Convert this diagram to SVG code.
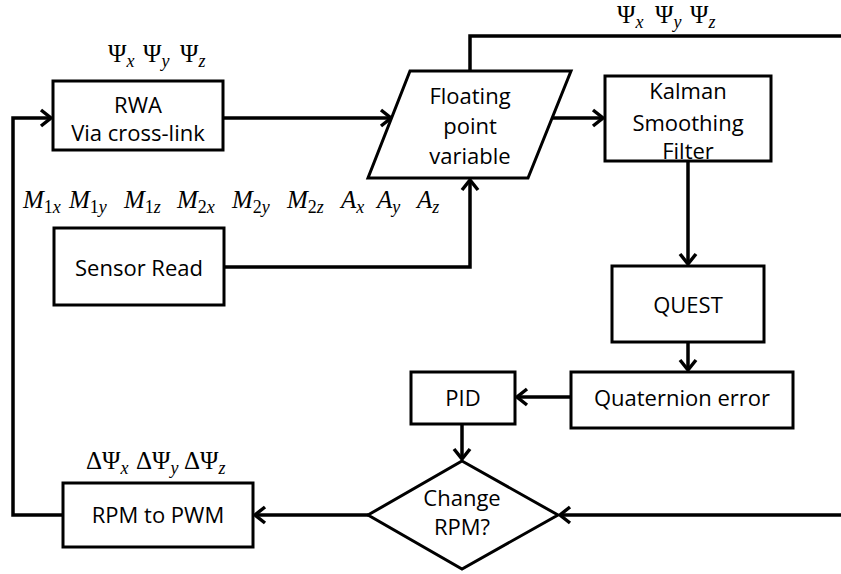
<svg xmlns="http://www.w3.org/2000/svg" width="841" height="574" viewBox="0 0 841 574">
<style>
.box{fill:#fff;stroke:#000;stroke-width:3}
.lbl{font-family:"Open Sans","Liberation Sans",sans-serif;font-size:22px;fill:#000;text-anchor:middle}
.math{font-family:"Liberation Serif","DejaVu Serif",serif;font-size:25px;fill:#000}
.it{font-style:italic}
.sub{font-size:18px}
.con{fill:none;stroke:#000;stroke-width:3.5}
</style>
<defs>
<marker id="ar" markerUnits="userSpaceOnUse" markerWidth="16" markerHeight="20" refX="12" refY="10" orient="auto">
<path d="M2,2 L12,10 L2,18" fill="none" stroke="#000" stroke-width="3.5"/>
</marker>
</defs>
<rect width="841" height="574" fill="#fff"/>
<g id="connectors">
<path class="con" d="M63,515 H13 V118 H51" marker-end="url(#ar)"/>
<path class="con" d="M223,118 H391" marker-end="url(#ar)"/>
<path class="con" d="M224,267 H470 V180" marker-end="url(#ar)"/>
<path class="con" d="M470,71 V36 H841"/>
<path class="con" d="M552,118 H603" marker-end="url(#ar)"/>
<path class="con" d="M688,161 V264" marker-end="url(#ar)"/>
<path class="con" d="M688,342 V370" marker-end="url(#ar)"/>
<path class="con" d="M571,397 H517" marker-end="url(#ar)"/>
<path class="con" d="M462,424 V459" marker-end="url(#ar)"/>
<path class="con" d="M841,515 H560" marker-end="url(#ar)"/>
<path class="con" d="M368,515 H255" marker-end="url(#ar)"/>
</g>
<g id="rwa">
<rect class="box" x="53" y="81" width="170" height="69"/>
<text class="lbl" x="138" y="113">RWA</text>
<text class="lbl" x="138" y="141">Via cross-link</text>
</g>
<g id="sensor">
<rect class="box" x="54" y="228" width="170" height="77"/>
<text class="lbl" x="139" y="276">Sensor Read</text>
</g>
<g id="floating">
<polygon class="box" points="410,71 571,71 528,178 368,178"/>
<text class="lbl" x="470" y="104">Floating</text>
<text class="lbl" x="470" y="134">point</text>
<text class="lbl" x="470" y="164">variable</text>
</g>
<g id="kalman">
<rect class="box" x="605" y="76" width="166" height="85"/>
<text class="lbl" x="688" y="99">Kalman</text>
<text class="lbl" x="688" y="131">Smoothing</text>
<text class="lbl" x="688" y="159">Filter</text>
</g>
<g id="quest">
<rect class="box" x="612" y="266" width="152" height="76"/>
<text class="lbl" x="688" y="313">QUEST</text>
</g>
<g id="quat">
<rect class="box" x="571" y="372" width="222" height="56"/>
<text class="lbl" x="682" y="406">Quaternion error</text>
</g>
<g id="pid">
<rect class="box" x="411" y="372" width="104" height="52"/>
<text class="lbl" x="463" y="406">PID</text>
</g>
<g id="change">
<polygon class="box" points="462,461 558,515 462,569 368,515"/>
<text class="lbl" x="462" y="506">Change</text>
<text class="lbl" x="462" y="535">RPM?</text>
</g>
<g id="rpm">
<rect class="box" x="63" y="483" width="190" height="64"/>
<text class="lbl" x="158" y="523">RPM to PWM</text>
</g>
<g id="labels">
<text class="math" y="62"><tspan x="108">Ψ</tspan><tspan class="it sub" dy="5">x</tspan><tspan x="143" dy="-5">Ψ</tspan><tspan class="it sub" dy="5">y</tspan><tspan x="180" dy="-5">Ψ</tspan><tspan class="it sub" dy="5">z</tspan></text>
<text class="math" y="23"><tspan x="617">Ψ</tspan><tspan class="it sub" dy="5">x</tspan><tspan x="655" dy="-5">Ψ</tspan><tspan class="it sub" dy="5">y</tspan><tspan x="690" dy="-5">Ψ</tspan><tspan class="it sub" dy="5">z</tspan></text>
<text class="math" y="469"><tspan x="86">ΔΨ</tspan><tspan class="it sub" dy="5">x</tspan><tspan x="136" dy="-5">ΔΨ</tspan><tspan class="it sub" dy="5">y</tspan><tspan x="184" dy="-5">ΔΨ</tspan><tspan class="it sub" dy="5">z</tspan></text>
<text class="math" y="208">
<tspan x="23" class="it">M</tspan><tspan class="sub" dy="5">1</tspan><tspan class="it sub">x</tspan>
<tspan x="69" dy="-5" class="it">M</tspan><tspan class="sub" dy="5">1</tspan><tspan class="it sub">y</tspan>
<tspan x="124" dy="-5" class="it">M</tspan><tspan class="sub" dy="5">1</tspan><tspan class="it sub">z</tspan>
<tspan x="177" dy="-5" class="it">M</tspan><tspan class="sub" dy="5">2</tspan><tspan class="it sub">x</tspan>
<tspan x="232" dy="-5" class="it">M</tspan><tspan class="sub" dy="5">2</tspan><tspan class="it sub">y</tspan>
<tspan x="287" dy="-5" class="it">M</tspan><tspan class="sub" dy="5">2</tspan><tspan class="it sub">z</tspan>
<tspan x="341" dy="-5" class="it">A</tspan><tspan class="it sub" dy="5">x</tspan>
<tspan x="377" dy="-5" class="it">A</tspan><tspan class="it sub" dy="5">y</tspan>
<tspan x="417" dy="-5" class="it">A</tspan><tspan class="it sub" dy="5">z</tspan>
</text>
</g>
</svg>
